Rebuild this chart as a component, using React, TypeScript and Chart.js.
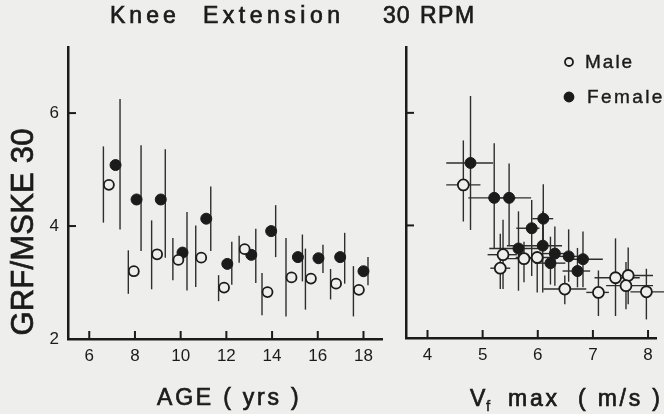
import React, { useEffect, useRef } from 'react';
import { Chart, registerables } from 'chart.js';
Chart.register(...registerables);

const BG = '#eeeeec';
const INK = '#1b1b1b';
const BAR = '#2e2e2e';
const FONT = '"Liberation Sans", Arial, sans-serif';

// ---------- Left panel: GRF/MSKE 30 vs AGE ----------
const maleAge = [6.86, 7.95, 8.97, 9.9, 10.9, 11.9, 12.8, 13.8, 14.85, 15.7, 16.8, 17.8];
const maleMean = [4.73, 3.2, 3.5, 3.4, 3.44, 2.91, 3.59, 2.83, 3.09, 3.07, 2.98, 2.87];
const maleHi = [5.41, 3.57, 4.1, 3.79, 4.01, 3.13, 3.83, 3.17, 3.79, 3.6, 3.24, 3.29];
const maleLo = [4.06, 2.8, 2.88, 3.04, 2.92, 2.67, 3.35, 2.42, 2.4, 2.52, 2.7, 2.4];

const femaleAge = [7.15, 8.07, 9.13, 10.08, 11.12, 12.04, 13.09, 13.96, 15.13, 16.03, 16.98, 18.0];
const femaleMean = [5.08, 4.47, 4.47, 3.53, 4.13, 3.33, 3.49, 3.91, 3.45, 3.43, 3.45, 3.2];
const femaleHi = [6.25, 5.43, 5.36, 4.25, 4.7, 3.72, 3.95, 4.37, 3.85, 3.67, 3.88, 3.45];
const femaleLo = [3.94, 3.56, 3.44, 2.86, 3.56, 2.96, 2.99, 3.45, 3.02, 3.17, 2.98, 2.95];

// ---------- Right panel: GRF/MSKE 30 vs Vf max ----------
const maleVf = [4.65, 5.37, 5.32, 5.75, 5.99, 6.49, 7.1, 7.41, 7.64, 7.6, 7.97];
const maleVfG = [4.72, 3.48, 3.24, 3.41, 3.43, 2.87, 2.81, 3.07, 3.11, 2.93, 2.82];
const maleVfLo = [4.34, 5.09, 5.14, 5.45, 5.6, 6.1, 6.88, 7.03, 7.38, 7.24, 7.68];
const maleVfHi = [4.96, 5.62, 5.5, 6.1, 6.35, 6.88, 7.29, 7.85, 8.09, 8.09, 8.3];
const maleVfGHi = [5.51, 4.1, 3.85, 3.71, 3.53, 3.11, 3.2, 3.77, 3.61, 3.35, 3.23];
const maleVfGLo = [4.07, 2.87, 2.87, 2.99, 2.81, 2.6, 2.39, 2.39, 2.6, 2.51, 2.33];

const femaleVf = [4.78, 5.21, 5.48, 6.1, 5.89, 5.65, 6.09, 6.31, 6.23, 6.56, 6.82, 6.72];
const femaleVfG = [5.11, 4.49, 4.49, 4.12, 3.95, 3.59, 3.64, 3.5, 3.33, 3.45, 3.4, 3.19];
const femaleVfLo = [4.34, 4.74, 5.1, 5.9, 5.61, 5.12, 5.44, 6.05, 5.95, 6.3, 6.59, 6.45];
const femaleVfHi = [5.19, 5.6, 5.88, 6.28, 6.03, 6.06, 6.44, 6.6, 6.5, 6.85, 7.18, 6.95];
const femaleVfGHi = [6.3, 5.46, 5.1, 4.73, 4.45, 4.25, 4.25, 3.98, 3.8, 3.93, 3.89, 3.6];
const femaleVfGLo = [3.92, 3.59, 3.65, 3.65, 3.1, 2.84, 2.81, 2.93, 2.95, 3.0, 2.9, 2.9];

// ---------- ticks ----------
const ageTicks = [6, 8, 10, 12, 14, 16, 18];
const gTicks = [2, 4, 6];
const gTicksRight = [4, 6];
const vfTicks = [4, 5, 6, 7, 8];

const errorBarPlugin = {
  id: 'errBars',
  beforeDatasetsDraw(chart: any) {
    const ctx = chart.ctx;
    const xs = chart.scales.x;
    const ys = chart.scales.y;
    ctx.save();
    ctx.strokeStyle = BAR;
    ctx.lineWidth = 1.4;
    chart.data.datasets.forEach((ds: any) => {
      const off = ds.barOffset || 0;
      ds.data.forEach((p: any, i: number) => {
        const px = xs.getPixelForValue(p.x) + off;
        const py = ys.getPixelForValue(p.y);
        if (ds.yLo) {
          ctx.beginPath();
          ctx.moveTo(px, ys.getPixelForValue(ds.yLo[i]));
          ctx.lineTo(px, ys.getPixelForValue(ds.yHi[i]));
          ctx.stroke();
        }
        if (ds.xLo) {
          ctx.beginPath();
          ctx.moveTo(xs.getPixelForValue(ds.xLo[i]), py);
          ctx.lineTo(xs.getPixelForValue(ds.xHi[i]), py);
          ctx.stroke();
        }
      });
    });
    ctx.restore();
  },
};

const inTicksPlugin = {
  id: 'inTicks',
  afterDraw(chart: any, _args: any, opts: any) {
    const ctx = chart.ctx;
    const xs = chart.scales.x;
    const ys = chart.scales.y;
    const a = chart.chartArea;
    ctx.save();
    ctx.strokeStyle = INK;
    ctx.lineWidth = 2;
    (opts.x || []).forEach((v: number) => {
      const px = xs.getPixelForValue(v);
      ctx.beginPath();
      ctx.moveTo(px, a.bottom);
      ctx.lineTo(px, a.bottom - opts.len);
      ctx.stroke();
    });
    (opts.y || []).forEach((v: number) => {
      const py = ys.getPixelForValue(v);
      ctx.beginPath();
      ctx.moveTo(a.left, py);
      ctx.lineTo(a.left + opts.len, py);
      ctx.stroke();
    });
    ctx.restore();
  },
};

const textsPlugin = {
  id: 'texts',
  afterDraw(chart: any, _args: any, opts: any) {
    const ctx = chart.ctx;
    (opts.items || []).forEach((it: any) => {
      ctx.save();
      if (it.circle) {
        ctx.beginPath();
        ctx.arc(it.x, it.y, it.r, 0, Math.PI * 2);
        ctx.fillStyle = it.filled ? INK : BG;
        ctx.fill();
        ctx.lineWidth = 1.8;
        ctx.strokeStyle = INK;
        ctx.stroke();
        ctx.restore();
        return;
      }
      ctx.font = `${it.size}px ${FONT}`;
      ctx.fillStyle = INK;
      ctx.strokeStyle = INK;
      ctx.lineWidth = it.size > 20 ? 0.7 : 0.4;
      ctx.textAlign = it.align || 'left';
      ctx.textBaseline = 'alphabetic';
      (ctx as any).letterSpacing = `${it.ls || 0}px`;
      ctx.translate(it.x, it.y);
      if (it.rot) ctx.rotate(it.rot);
      ctx.fillText(it.text, 0, 0);
      ctx.strokeText(it.text, 0, 0);
      ctx.restore();
    });
  },
};

function axisScale(min: number, max: number, ticks: number[], size: number, showLabels: boolean, isX: boolean) {
  return {
    type: 'linear',
    min,
    max,
    afterBuildTicks(s: any) {
      s.ticks = ticks.map((v) => ({ value: v }));
    },
    afterFit(s: any) {
      if (isX) s.height = size;
      else s.width = size;
    },
    grid: { display: false, drawTicks: false },
    border: { display: true, color: INK, width: 2.5 },
    ticks: {
      display: showLabels,
      color: INK,
      font: { family: FONT, size: 17 },
      padding: isX ? 7 : 9,
      autoSkip: false,
      maxRotation: 0,
      callback: (v: any) => String(v),
    },
  };
}

function makeLeft(canvas: HTMLCanvasElement) {
  return new Chart(canvas, {
    type: 'scatter',
    data: {
      datasets: [
        {
          label: 'Male',
          data: maleAge.map((x, i) => ({ x, y: maleMean[i] })),
          yLo: maleLo,
          yHi: maleHi,
          barOffset: -5.5,
          pointRadius: 5,
          pointBackgroundColor: BG,
          pointBorderColor: INK,
          pointBorderWidth: 1.8,
        } as any,
        {
          label: 'Female',
          data: femaleAge.map((x, i) => ({ x, y: femaleMean[i] })),
          yLo: femaleLo,
          yHi: femaleHi,
          barOffset: 4.5,
          pointRadius: 5.5,
          pointBackgroundColor: INK,
          pointBorderColor: INK,
          pointBorderWidth: 1,
        } as any,
      ],
    },
    options: {
      animation: false,
      responsive: false,
      layout: { padding: { left: 0, top: 47, right: 18, bottom: 0 } },
      plugins: {
        legend: { display: false },
        tooltip: { enabled: false },
        inTicks: { x: ageTicks, y: gTicks.filter((v) => v > 2), len: 8 },
        texts: {
          items: [
            { text: 'Knee', x: 110, y: 23, size: 23, ls: 4 },
            { text: 'Extension', x: 203, y: 23, size: 23, ls: 4.5 },
            { text: 'AGE ( yrs )', x: 157, y: 405, size: 23, ls: 2.8 },
            { text: 'GRF/MSKE 30', x: 33, y: 232, size: 31, ls: 0.2, align: 'center', rot: -Math.PI / 2 },
          ],
        },
      } as any,
      scales: {
        x: axisScale(5.07, 18.81, ageTicks, 75, true, true),
        y: axisScale(2, 7.17, gTicks, 68, true, false),
      } as any,
    },
    plugins: [errorBarPlugin, inTicksPlugin, textsPlugin],
  } as any);
}

function makeRight(canvas: HTMLCanvasElement) {
  return new Chart(canvas, {
    type: 'scatter',
    data: {
      datasets: [
        {
          label: 'Male',
          data: maleVf.map((x, i) => ({ x, y: maleVfG[i] })),
          xLo: maleVfLo,
          xHi: maleVfHi,
          yLo: maleVfGLo,
          yHi: maleVfGHi,
          pointRadius: 5.5,
          pointBackgroundColor: BG,
          pointBorderColor: INK,
          pointBorderWidth: 1.8,
        } as any,
        {
          label: 'Female',
          data: femaleVf.map((x, i) => ({ x, y: femaleVfG[i] })),
          xLo: femaleVfLo,
          xHi: femaleVfHi,
          yLo: femaleVfGLo,
          yHi: femaleVfGHi,
          pointRadius: 5.5,
          pointBackgroundColor: INK,
          pointBorderColor: INK,
          pointBorderWidth: 1,
        } as any,
      ],
    },
    options: {
      animation: false,
      responsive: false,
      layout: { padding: { left: 0, top: 47, right: 0, bottom: 0 } },
      plugins: {
        legend: { display: false },
        tooltip: { enabled: false },
        inTicks: { x: vfTicks, y: gTicksRight, len: 8 },
        texts: {
          items: [
            { text: '30', x: 13, y: 23, size: 23, ls: 1 },
            { text: 'RPM', x: 50, y: 23, size: 23, ls: 1.5 },
            { circle: true, x: 199, y: 62, r: 4, filled: false },
            { text: 'Male', x: 215, y: 68, size: 19, ls: 2 },
            { circle: true, x: 199, y: 97, r: 4.5, filled: true },
            { text: 'Female', x: 217, y: 103, size: 19, ls: 2.4 },
            { text: 'V', x: 100, y: 406, size: 23, ls: 0 },
            { text: 'f', x: 116, y: 411, size: 15, ls: 0 },
            { text: 'max', x: 138, y: 406, size: 23, ls: 2.8 },
            { text: '( m/s )', x: 208, y: 406, size: 23, ls: 2.8 },
          ],
        },
      } as any,
      scales: {
        x: axisScale(3.61, 8.157, vfTicks, 76, true, true),
        y: axisScale(2, 7.17, gTicksRight, 36, false, false),
      } as any,
    },
    plugins: [errorBarPlugin, inTicksPlugin, textsPlugin],
  } as any);
}

export default function App() {
  const leftRef = useRef<HTMLCanvasElement>(null);
  const rightRef = useRef<HTMLCanvasElement>(null);
  useEffect(() => {
    document.body.style.margin = '0';
    document.body.style.background = BG;
    const l = makeLeft(leftRef.current!);
    const r = makeRight(rightRef.current!);
    return () => {
      l.destroy();
      r.destroy();
    };
  }, []);
  return (
    <div style={{ position: 'fixed', left: 0, top: 0, width: 664, height: 414, background: BG, overflow: 'hidden' }}>
      <canvas ref={leftRef} width={400} height={414} style={{ position: 'absolute', left: 0, top: 0, width: 400, height: 414 }} />
      <canvas ref={rightRef} width={294} height={414} style={{ position: 'absolute', left: 370, top: 0, width: 294, height: 414 }} />
    </div>
  );
}
